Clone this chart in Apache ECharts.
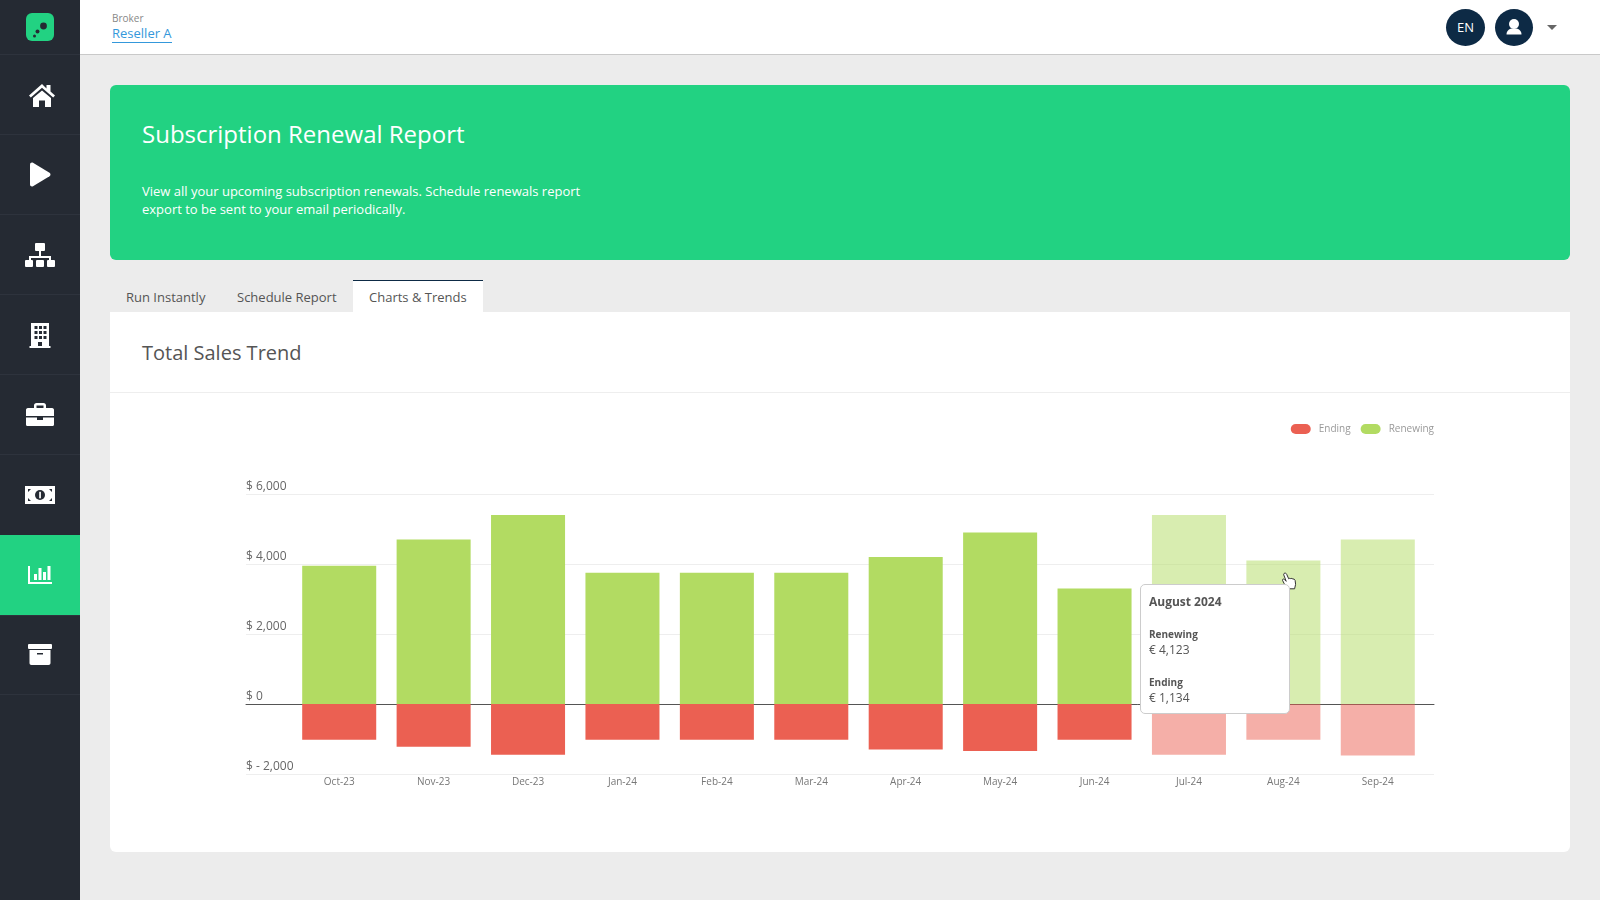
<!DOCTYPE html>
<html>
<head>
<meta charset="utf-8">
<title>Subscription Renewal Report</title>
<script src="https://cdn.jsdelivr.net/npm/echarts@6/dist/echarts.min.js"></script>
<style>
html,body{margin:0;padding:0;width:1600px;height:900px;overflow:hidden;background:#ececec;font-family:"Open Sans",sans-serif;}
div,span,a{position:absolute;white-space:nowrap;}
.side{left:0;top:0;width:80px;height:900px;background:#252a33;}
.sep{left:0;width:80px;height:1px;background:#2e333d;}
.side svg{position:absolute;left:0;top:0;}
.head{left:80px;top:0;width:1520px;height:54px;background:#fff;border-bottom:1px solid #c9c9c9;}
.banner{left:110px;top:85px;width:1460px;height:175px;background:#22d282;border-radius:6px;}
.tab{top:288px;font-size:13px;line-height:18px;color:#555;}
.panel{left:110px;top:312px;width:1460px;height:540px;background:#fff;border-radius:0 0 6px 6px;}
.round{border-radius:50%;background:#0d2a45;color:#fff;text-align:center;}
#chart{left:110px;top:393px;width:1460px;height:459px;}
</style>
</head>
<body>
<div class="side">
  <div class="sep" style="top:54px"></div><div class="sep" style="top:134px"></div><div class="sep" style="top:214px"></div><div class="sep" style="top:294px"></div>
  <div class="sep" style="top:374px"></div><div class="sep" style="top:454px"></div><div class="sep" style="top:615px"></div><div class="sep" style="top:694px"></div>
  <div style="left:0;top:535px;width:80px;height:80px;background:#22d282"></div>
  <svg width="80" height="700" fill="#fff">
    <!-- logo -->
    <rect x="26" y="13" width="28" height="28" rx="6" fill="#22d282"/>
    <circle cx="43.500" cy="26" r="3.400" fill="#252a33"/><circle cx="37.500" cy="31.500" r="2" fill="#252a33"/><circle cx="34.500" cy="36" r="1.500" fill="#252a33"/>
    <!-- home -->
    <path d="M42 84L29 95.500l1.800 2L42 87.800 53.200 97.500l1.800-2-4.500-4V85h-4v3.500z"/>
    <path d="M33 98L42 90.500 51 98v9H45v-6.500H39v6.500H33z"/>
    <!-- play -->
    <path d="M30 164.500c0-1.500 1.500-2.500 3-1.700l16.500 10c1.300 .8 1.300 2.600 0 3.400L33 186.200c-1.500 .8-3-.2-3-1.700z"/>
    <!-- sitemap -->
    <rect x="35" y="243" width="10" height="8" rx="1"/><rect x="39" y="251" width="2" height="5"/>
    <path d="M29 256h22v5h-2v-3H31v3h-2z"/>
    <rect x="25" y="260" width="8" height="7" rx="1"/><rect x="36" y="260" width="8" height="7" rx="1"/><rect x="47" y="260" width="8" height="7" rx="1"/>
    <!-- building -->
    <path fill-rule="evenodd" d="M31 323h18v23h1.500v2h-21v-2H31zM34.500 326v3h3v-3zM39 326v3h3v-3zM43.500 326v3h3v-3zM34.500 331v3h3v-3zM39 331v3h3v-3zM43.500 331v3h3v-3zM34.500 336v3h3v-3zM39 336v3h3v-3zM43.500 336v3h3v-3zM38 342v4h4v-4z"/>
    <!-- briefcase -->
    <path fill-rule="evenodd" d="M34 408v-2.500c0-1.400 1-2.500 2.500-2.500h7c1.500 0 2.500 1.100 2.500 2.500V408h6c1.500 0 2 1 2 2v6H26v-6c0-1 .5-2 2-2zM36.500 405.500V408h7v-2.500z"/>
    <path d="M26 417.500h11v2.500h6v-2.500h11v7c0 1-.8 1.500-2 1.500H28c-1.200 0-2-.5-2-1.500z"/>
    <!-- money -->
    <path fill-rule="evenodd" d="M25 486h30v18H25zM28 489v3l3-3zM52 489h-3l3 3zM28 501h3l-3-3zM52 501v-3l-3 3z"/>
    <circle cx="40" cy="495" r="5" fill="#252a33"/><rect x="39.200" y="491.800" width="1.700" height="6.500"/>
    <!-- chart -->
    <path d="M28 566h2v16h22v2H28z"/><rect x="34" y="574" width="3" height="6"/><rect x="38.500" y="568" width="3" height="12"/><rect x="43" y="572" width="3" height="8"/><rect x="47.500" y="566" width="3" height="14"/>
    <!-- archive -->
    <rect x="28" y="644" width="24" height="5" rx="1"/>
    <path fill-rule="evenodd" d="M29.500 650h21v13c0 1-.7 2-2 2h-17c-1.300 0-2-1-2-2zM37 653v1.500h6V653z"/>
  </svg>
</div>

<div class="head"></div>
<span style="left:112px;top:11px;font-size:10px;line-height:14px;color:#888">Broker</span>
<span style="left:112px;top:24px;font-size:13px;line-height:18px;color:#3498db;border-bottom:1px solid #3498db">Reseller A</span>
<div class="round" style="left:1446px;top:9px;width:39px;height:37px;line-height:37px;font-size:13px">EN</div>
<div class="round" style="left:1495px;top:9px;width:38px;height:37px">
  <svg width="38" height="37" style="position:absolute;left:0;top:0" fill="#fff"><circle cx="19" cy="15" r="5"/><path d="M11.500 25.500c0-4 3-5.500 5-6h5c2 .5 5 2 5 6z"/></svg>
</div>
<svg width="12" height="8" style="position:absolute;left:1547px;top:25px"><path d="M0 0h10L5 5z" fill="#666"/></svg>

<div class="banner"></div>
<span style="left:142px;top:117px;font-size:24px;line-height:34px;color:#fff">Subscription Renewal Report</span>
<span style="left:142px;top:182px;font-size:13px;line-height:18px;color:#fff">View all your upcoming subscription renewals. Schedule renewals report</span>
<span style="left:142px;top:200px;font-size:13px;line-height:18px;color:#fff">export to be sent to your email periodically.</span>

<span class="tab" style="left:126px">Run Instantly</span>
<span class="tab" style="left:237px">Schedule Report</span>
<div style="left:353px;top:280px;width:130px;height:32px;background:#fff;border-top:1.500px solid #0d2a45;box-sizing:border-box"></div>
<span class="tab" style="left:369px">Charts &amp; Trends</span>

<div class="panel"></div>
<span style="left:142px;top:339px;font-size:20px;line-height:28px;color:#555">Total Sales Trend</span>
<div style="left:110px;top:392px;width:1460px;height:1px;background:#eee"></div>

<div id="chart"></div>

<svg width="20" height="22" style="position:absolute;left:1280px;top:571px">
  <path d="M4 2.500c1-.8 2.300-.3 2.700.8l2 4.500 1-.5 1 .3 1.200-.2 1 .6 1.200.1 1 1.200.5 4-1 4.500H8l-4-5.500-1.500-3c-.3-1 .8-1.700 1.700-1l2 2L3.800 4c-.2-.6-.2-1.100.2-1.500z" fill="#fff" stroke="#333" stroke-width="1"/>
</svg>

<script>
// values
var categories = ['Oct-23','Nov-23','Dec-23','Jan-24','Feb-24','Mar-24','Apr-24','May-24','Jun-24','Jul-24','Aug-24','Sep-24'];
var renewing = [3950,4700,5400,3750,3750,3750,4200,4900,3300,5400,4100,4700];
var ending = [-1020,-1220,-1450,-1020,-1020,-1020,-1300,-1340,-1020,-1450,-1020,-1470];
var fadedMonths = ['Jul-24','Aug-24','Sep-24'];
var tooltipIndex = 10;
var tooltipTitle = 'August 2024';
var tooltipRenewing = '€ 4,123';
var tooltipEnding = '€ 1,134';

var renewingColor = '#b2db62';
var endingColor = '#eb6052';

function fade(list){
    return list.map(function(v,i){
        return {value:v,itemStyle:{opacity:fadedMonths.indexOf(categories[i])>=0?0.5:1}};
    });
}

function moneyLabel(v){
    if(v<0){return '$ - '+Math.abs(v).toLocaleString('en-US');}
    return '$ '+v.toLocaleString('en-US');
}

var pill = 'path://M5 0H15A5 5 0 0 1 15 10H5A5 5 0 0 1 5 0Z';
var font = '"Open Sans", sans-serif';

var chart = echarts.init(document.getElementById('chart'));
chart.setOption({
    animation:false,
    textStyle:{fontFamily:font},
    legend:{
        right:136,top:31,itemWidth:20,itemHeight:10,itemGap:10,padding:0,
        data:[{name:'Ending',icon:pill},{name:'Renewing',icon:pill}],
        textStyle:{fontSize:10,color:'#999',fontFamily:font,padding:[0,0,0,3]}
    },
    // grid 0 carries the full width rules and y labels, grid 1 the bars
    grid:[
        {left:136,top:101,width:1188,height:280},
        {left:182,top:101,width:1133,height:280}
    ],
    xAxis:[
        {type:'category',gridIndex:0,data:categories,axisTick:{show:false},axisLabel:{show:false},
         axisLine:{show:true,onZero:true,lineStyle:{color:'#555',width:1}}},
        {type:'category',gridIndex:1,data:categories,axisTick:{show:false},axisLine:{show:false,onZero:false},
         axisLabel:{fontSize:10,color:'#777',margin:3,fontFamily:font,interval:0}}
    ],
    yAxis:[
        {type:'value',gridIndex:0,min:-2000,max:6000,interval:2000,axisLine:{show:false},axisTick:{show:false},
         splitLine:{show:true,lineStyle:{color:'#eee',width:1}},
         axisLabel:{inside:true,margin:0,align:'left',verticalAlign:'bottom',padding:[0,0,1,0],fontSize:12,color:'#666',fontFamily:font,formatter:moneyLabel}},
        {type:'value',gridIndex:1,min:-2000,max:6000,interval:2000,show:false}
    ],
    tooltip:{
        trigger:'item',triggerOn:'none',alwaysShowContent:true,transitionDuration:0,
        position:[1030,191],padding:0,borderWidth:1,borderColor:'#ccc',borderRadius:5,backgroundColor:'#fff',
        shadowBlur:0,shadowColor:'transparent',shadowOffsetX:0,shadowOffsetY:0,
        extraCssText:'width:150px;height:130px;box-sizing:border-box;box-shadow:none;',
        formatter:function(){
            return '<div style="position:relative;width:148px;height:128px;color:#555;font-family:'+"'Open Sans',sans-serif"+'">'
                +'<span style="left:8px;top:8px;font-size:12px;line-height:18px;font-weight:700">'+tooltipTitle+'</span>'
                +'<span style="left:8px;top:42px;font-size:10px;line-height:14px;font-weight:700">Renewing</span>'
                +'<span style="left:8px;top:56px;font-size:12px;line-height:18px">'+tooltipRenewing+'</span>'
                +'<span style="left:8px;top:90px;font-size:10px;line-height:14px;font-weight:700">Ending</span>'
                +'<span style="left:8px;top:104px;font-size:12px;line-height:18px">'+tooltipEnding+'</span>'
                +'</div>';
        }
    },
    series:[
        {name:'Ending',type:'bar',stack:'total',xAxisIndex:1,yAxisIndex:1,barWidth:'78.400%',
         itemStyle:{color:endingColor},emphasis:{disabled:true},data:fade(ending)},
        {name:'Renewing',type:'bar',stack:'total',xAxisIndex:1,yAxisIndex:1,barWidth:'78.400%',
         itemStyle:{color:renewingColor},emphasis:{disabled:true},data:fade(renewing)}
    ]
});
chart.dispatchAction({type:'showTip',seriesIndex:1,dataIndex:tooltipIndex});
</script>
</body>
</html>
